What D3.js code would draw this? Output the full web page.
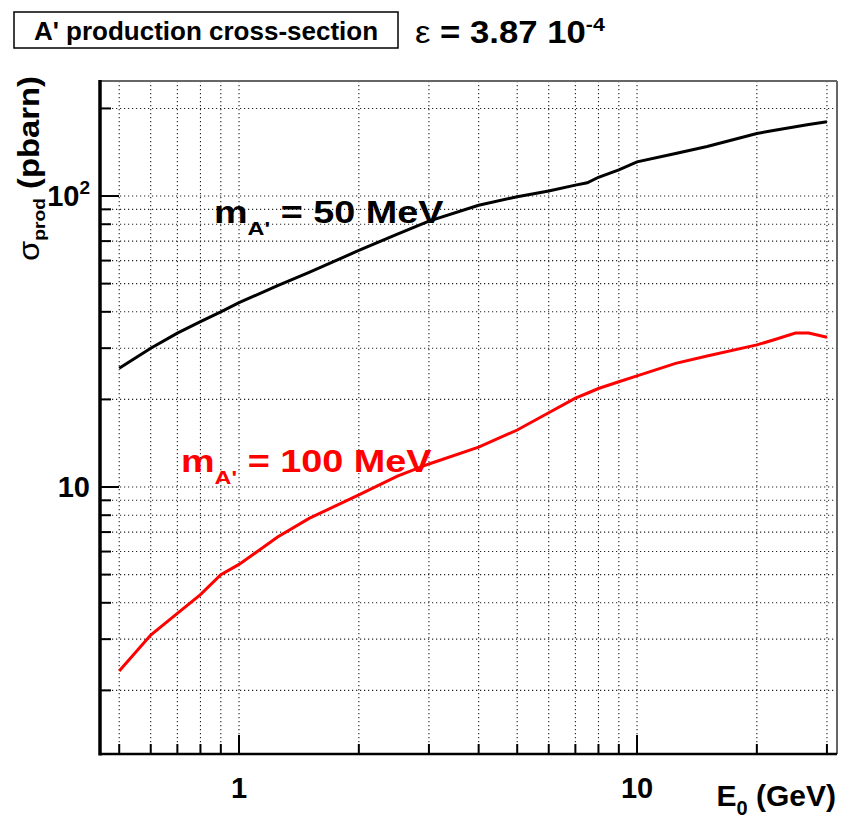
<!DOCTYPE html>
<html><head><meta charset="utf-8">
<script src="https://cdn.jsdelivr.net/npm/d3@7"></script>
<style>
body{margin:0;background:#fff;}
svg text{font-family:"Liberation Sans",Arial,Helvetica,sans-serif;font-weight:bold;}
</style>
</head><body>
<svg id="chart" width="842" height="824"></svg>
<script>
// ---- data ----
const energies = [0.5,0.6,0.7,0.8,0.9,1,1.25,1.5,2,2.5,3,4,5,6,7,7.5,8,9,10,12.5,15,20,22,25,27,30];
const sigma50  = [25.6,30.0,33.8,37.0,40,43,49.2,54.7,65,74,82,93,99.5,104,109,111,116,123,131,140,148,164,168,173,176,180];
const sigma100 = [2.33,3.1,3.68,4.27,5.0,5.42,6.73,7.8,9.4,10.9,12.0,13.7,15.7,18.0,20.2,21.0,21.8,23.0,24.1,26.6,28.2,30.8,32.0,33.8,33.8,32.7];
const seriesNames = ["50 MeV","100 MeV"];
const xMajorTicks = [1,10];
const xMajorLabels = ["1","10"];
const xMinorTicks = [0.5,0.6,0.7,0.8,0.9,2,3,4,5,6,7,8,9,20,30];
const yMajorTicks = [10,100];
const yMajorLabels = [["10",""],["10","2"]];
const yMinorTicks = [2,3,4,5,6,7,8,9,20,30,40,50,60,70,80,90,200];
const titleText = "A' production cross-section";
const epsMantissa = "3.87 10";
const epsExponent = "-4";

// ---- layout ----
const svg = d3.select("#chart");
const L = 100, R = 837, T = 81, B = 754;
const x = d3.scaleLog().domain([0.4474, 31.8]).range([L, R]);
const y = d3.scaleLog().domain([1.209, 248.5]).range([B, T]);

// grid
const grid = svg.append("g").attr("stroke","#222").attr("stroke-width",1.1).attr("stroke-dasharray","1.2,2.8");
xMajorTicks.concat(xMinorTicks).forEach(v=>{
  grid.append("line").attr("x1",x(v)).attr("x2",x(v)).attr("y1",T).attr("y2",B);
});
yMajorTicks.concat(yMinorTicks).forEach(v=>{
  grid.append("line").attr("y1",y(v)).attr("y2",y(v)).attr("x1",L).attr("x2",R);
});

// frame
svg.append("line").attr("x1",L).attr("x2",R).attr("y1",T).attr("y2",T).attr("stroke","#666").attr("stroke-width",2);
svg.append("line").attr("x1",R).attr("x2",R).attr("y1",T).attr("y2",B).attr("stroke","#666").attr("stroke-width",2);

// axes ticks
const tk = svg.append("g").attr("stroke","#000").attr("stroke-width",2);
xMajorTicks.forEach(v=>tk.append("line").attr("x1",x(v)).attr("x2",x(v)).attr("y1",B).attr("y2",B-19));
xMinorTicks.forEach(v=>tk.append("line").attr("x1",x(v)).attr("x2",x(v)).attr("y1",B).attr("y2",B-10));
yMajorTicks.forEach(v=>tk.append("line").attr("y1",y(v)).attr("y2",y(v)).attr("x1",L).attr("x2",L+19));
yMinorTicks.forEach(v=>tk.append("line").attr("y1",y(v)).attr("y2",y(v)).attr("x1",L).attr("x2",L+11));
svg.append("line").attr("x1",L).attr("x2",R).attr("y1",B).attr("y2",B).attr("stroke","#000").attr("stroke-width",2.5);
svg.append("line").attr("x1",L).attr("x2",L).attr("y1",T-1).attr("y2",B+1.5).attr("stroke","#000").attr("stroke-width",3.5);

// tick labels
xMajorTicks.forEach((v,i)=>{
  svg.append("text").attr("x",x(v)).attr("y",798).attr("text-anchor","middle")
    .attr("font-size",29).text(xMajorLabels[i]);
});
yMajorTicks.forEach((v,i)=>{
  const t = svg.append("text").attr("x",L-10).attr("y",y(v)+10).attr("text-anchor","end").attr("font-size",29);
  t.append("tspan").text(yMajorLabels[i][0]);
  if (yMajorLabels[i][1]) t.append("tspan").attr("dy",-12).attr("font-size",19).text(yMajorLabels[i][1]);
});

// axis titles
const xt = svg.append("text").attr("x",836).attr("y",806).attr("text-anchor","end").attr("font-size",30);
xt.append("tspan").text("E");
xt.append("tspan").attr("dy",9).attr("font-size",20).text("0");
xt.append("tspan").attr("dy",-9).text(" (GeV)");

const yt = svg.append("text").attr("transform","translate(39,261) rotate(-90) scale(1.13,1)").attr("text-anchor","start").attr("font-size",29);
yt.append("tspan").attr("font-weight","normal").text("σ");
yt.append("tspan").attr("dy",6).attr("font-size",17).text("prod");
yt.append("tspan").attr("dy",-6).text(" (pbarn)");

// curves
const line = d3.line().x((d,i)=>x(energies[i])).y(d=>y(d));
svg.append("path").datum(sigma50).attr("d",line).attr("fill","none").attr("stroke","#000").attr("stroke-width",3);
svg.append("path").datum(sigma100).attr("d",line).attr("fill","none").attr("stroke","#ff0000").attr("stroke-width",3);

// series labels
function massLabel(xp, yp, color, name, fs, sx){
  const t = svg.append("text").attr("transform",`translate(${xp},${yp}) scale(${sx},1)`).attr("fill",color).attr("font-size",fs);
  t.append("tspan").text("m");
  t.append("tspan").attr("dy",fs*0.38).attr("font-size",fs*0.62).text("A'");
  t.append("tspan").attr("dy",-fs*0.38).text(" = " + name);
}
massLabel(214, 223, "#000", seriesNames[0], 31, 1.22);
massLabel(181, 472, "#ff0000", seriesNames[1], 31, 1.22);

// title box
svg.append("rect").attr("x",14).attr("y",12).attr("width",384).attr("height",36).attr("fill","#fff").attr("stroke","#000").attr("stroke-width",1.5);
svg.append("text").attr("x",206).attr("y",40).attr("text-anchor","middle").attr("font-size",26).text(titleText);
const eps = svg.append("text").attr("transform","translate(415,43) scale(1.12,1)").attr("font-size",31);
eps.append("tspan").attr("font-weight","normal").text("ε");
eps.append("tspan").text(" = " + epsMantissa);
eps.append("tspan").attr("dy",-12).attr("font-size",19).text(epsExponent);
</script>
</body></html>
